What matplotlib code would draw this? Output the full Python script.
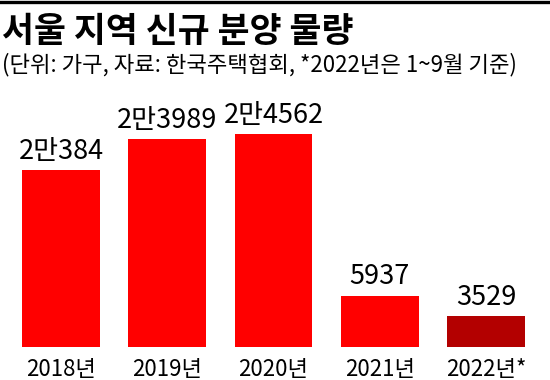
import matplotlib
matplotlib.use('Agg')
from matplotlib import pyplot as plt
import numpy as np

# 데이터 (단위: 가구)
years = ['2018년', '2019년', '2020년', '2021년', '2022년*']
supply = [20384, 23989, 24562, 5937, 3529]
value_labels = ['2만384', '2만3989', '2만4562', '5937', '3529']
bar_colors = ['#ff0000', '#ff0000', '#ff0000', '#ff0000', '#b30000']

title = '서울 지역 신규 분양 물량'
subtitle = '(단위: 가구, 자료: 한국주택협회, *2022년은 1~9월 기준)'

plt.rcParams['font.family'] = ['Noto Sans CJK KR', 'DejaVu Sans']

fig = plt.figure(figsize=(5.5, 3.8), dpi=100)
fig.patch.set_facecolor('white')

# 상단 검은 선
fig.add_artist(plt.Line2D([0, 1], [0.996, 0.996], color='black', linewidth=2.4))

fig.text(0.004, 0.964, title, fontsize=25, fontweight='bold', va='top', ha='left')
fig.text(0.004, 0.862, subtitle, fontsize=16, va='top', ha='left')

ax = fig.add_axes([0.0, 0.087, 1.0, 0.57])
x = np.arange(len(years))
ax.bar(x, supply, width=0.73, color=bar_colors)

for xi, v, lab in zip(x, supply, value_labels):
    ax.annotate(lab, (xi, v), xytext=(0, 4), textcoords='offset points',
                ha='center', va='bottom', fontsize=19.5, fontweight='medium')

ax.set_xlim(-0.574, 4.602)
ax.set_ylim(0, 25000)
ax.set_xticks(x)
ax.set_xticklabels(years, fontsize=16)
ax.tick_params(axis='x', length=0, pad=8)
ax.set_yticks([])
for s in ax.spines.values():
    s.set_visible(False)
ax.patch.set_alpha(0)

fig.savefig('out.png', dpi=100)
